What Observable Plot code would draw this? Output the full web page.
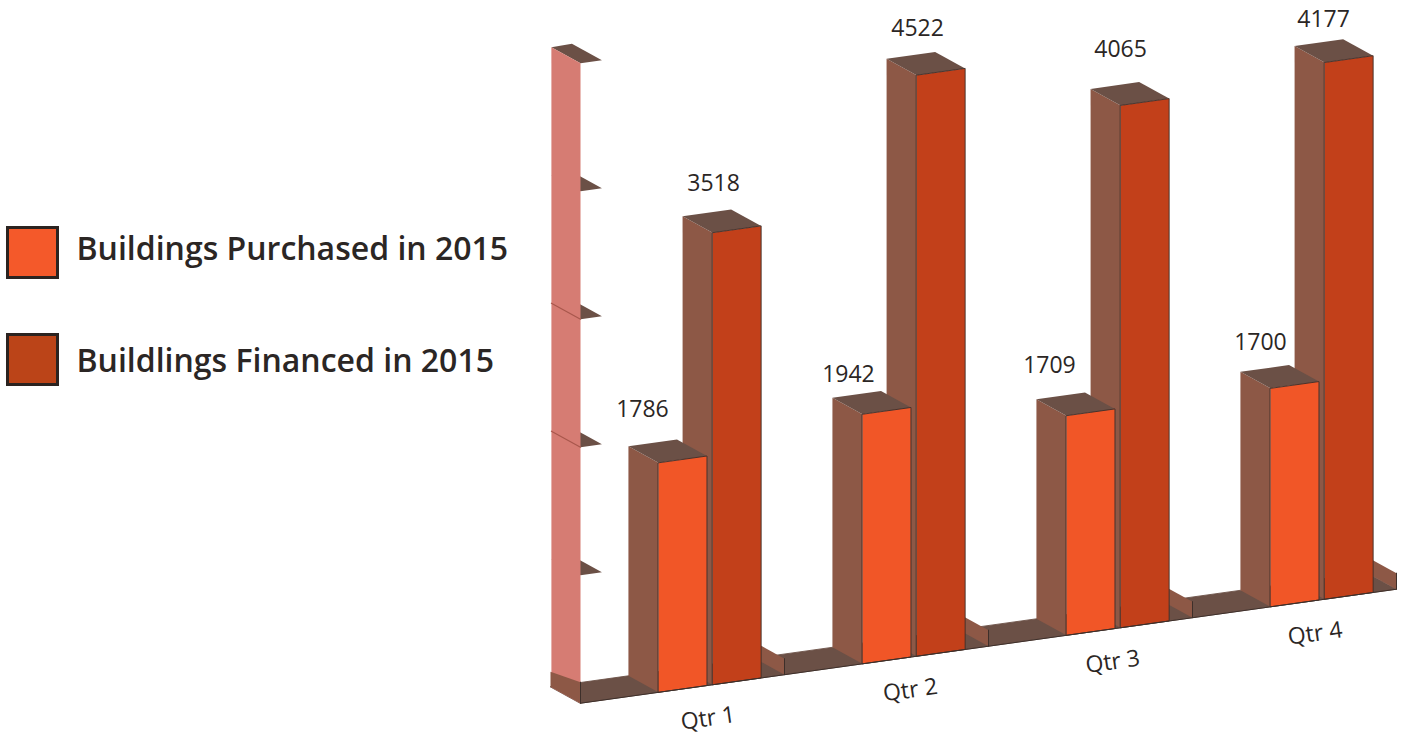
<!DOCTYPE html>
<html>
<head>
<meta charset="utf-8">
<script src="https://cdn.jsdelivr.net/npm/d3@7"></script>
<script src="https://cdn.jsdelivr.net/npm/@observablehq/plot@0.6"></script>
<style>
html,body{margin:0;padding:0;background:#fff}
#wrap{position:relative;width:1402px;height:735px;font-family:"Open Sans",sans-serif;overflow:hidden}
#wrap svg{display:block;position:absolute;left:0;top:0}
.sw{position:absolute;left:6px;width:53px;height:53px;box-sizing:border-box;border:3px solid #2b2320;outline:0}
.lg{position:absolute;left:76.5px;font-size:32px;font-weight:600;color:#2b2624;line-height:40px;white-space:nowrap}
</style>
</head>
<body>
<div id="wrap"></div>
<script>
// ---- data
const quarters = ["Qtr 1", "Qtr 2", "Qtr 3", "Qtr 4"];
const purchased = [1786, 1942, 1709, 1700];
const financed = [3518, 4522, 4065, 4177];
const axisTicks = [1000, 2000, 3000, 4000, 5000];
const seriesNames = ["Buildings Purchased in 2015", "Buildlings Financed in 2015"];

// ---- styling and oblique projection constants
const C = {purchased:"#f15627", financed:"#c2401a", side:"#8d5846", top:"#6b5046", wall:"#d67c73", edge:"#3d2f2a", tickLine:"#a8574c"};
const pxPerU = 204, slopePx = 28.5, depthPxX = 30, depthPxY = 16.5, pxPerV = 0.1285;
const barOffset = [0.382, 0.6475], barW = 0.238, wallH = 125, baseFront = 164, baseBack = 117, tickW = 0.105;
const axisK = 0.996, wallDepth = 0.97;
const X = (u, d) => u - d * depthPxX / pxPerU;
const Y = (u, d, v) => v + (slopePx * u + depthPxY * d) / pxPerV;

// ---- polygons, in painter's order
const polys = [];
let pid = 0;
function poly(fill, stroke, corners) {
  pid++;
  for (const [u, d, v] of corners) polys.push({id: pid, fill, stroke, x: X(u, d), y: Y(u, d, v)});
}
const n = quarters.length;
const axisMax = axisTicks[axisTicks.length - 1] * axisK;
// floor
poly(C.top, C.top, [[0,0,0],[n,0,0],[n,1,0],[0,1,0]]);
// axis tick shelves
for (const t of axisTicks) poly(C.top, "none", [[0,0,t*axisK],[tickW,0,t*axisK],[tickW,1,t*axisK],[0,wallDepth,t*axisK]]);
// left wall
poly(C.wall, "none", [[0,0,0],[0,0,axisMax],[0,wallDepth,axisMax],[0,wallDepth,0]]);
// base of the left wall
poly(C.side, "none", [[0,0,0],[0,0,baseFront],[0,1,baseBack],[0,1,0]]);
// category divider walls
for (let i = 1; i <= n; i++) poly(C.side, "none", [[i,0,0],[i,0,wallH],[i,1,wallH],[i,1,0]]);
// bars
function bar(u0, v, front) {
  const u1 = u0 + barW;
  poly(C.side, "none", [[u0,0,0],[u0,0,v],[u0,1,v],[u0,1,0]]);
  poly(C.top, "none", [[u0,0,v],[u1,0,v],[u1,1,v],[u0,1,v]]);
  poly(front, C.edge, [[u0,0,0],[u1,0,0],[u1,0,v],[u0,0,v]]);
}
quarters.forEach((q, i) => {
  bar(i + barOffset[1], financed[i], C.financed);
  bar(i + barOffset[0], purchased[i], C.purchased);
});

// dark edges
const edges = [];
[0,1,2,3,4].forEach(i => {
  const h = i === 0 ? baseFront : wallH;
  edges.push({id:"e"+i, x:X(i,0), y:Y(i,0,0)}, {id:"e"+i, x:X(i,0), y:Y(i,0,h)});
});
edges.push({id:"front", x:X(0,0), y:Y(0,0,0)}, {id:"front", x:X(n,0), y:Y(n,0,0)});
const wallLines = [];
axisTicks.slice(1,3).forEach(t => wallLines.push({id:t, x:X(0,0), y:Y(0,0,t*axisK)}, {id:t, x:X(0,wallDepth), y:Y(0,wallDepth,t*axisK)}));

// value labels: nudges from each bar's front top-left corner, in pixels
const nudgeP = [[-16,-53],[-14,-40],[-17,-50],[-10,-46]];
const nudgeF = [[1,-49],[1,-47],[0,-56],[-1,-43]];
const labels = [];
quarters.forEach((q, i) => {
  for (const [u, v, nd] of [[i+barOffset[0], purchased[i], nudgeP[i]], [i+barOffset[1], financed[i], nudgeF[i]]]) {
    labels.push({t: String(v), x: X(u,0) + nd[0]/pxPerU, y: Y(u,0,v) - nd[1]/pxPerV});
  }
});
const catLabels = quarters.map((q, i) => {
  const u = i * 0.992 + 0.625;
  return {t: q, x: X(u, 0), y: Y(u, 0, -258)};
});

const chart = Plot.plot({
  width: 1402, height: 735, margin: 0,
  style: {background: "#fff", fontFamily: '"Open Sans",sans-serif'},
  x: {domain: [0, 4], range: [580, 1396], axis: null},
  y: {domain: [0, 5000], range: [702.7, 702.7 - 5000 * pxPerV], axis: null},
  color: {type: "identity"},
  marks: [
    Plot.line(polys, {x:"x", y:"y", z:"id", fill:"fill", stroke:"stroke", strokeWidth:0.9, curve:"linear-closed"}),
    Plot.line(edges, {x:"x", y:"y", z:"id", stroke:C.edge, strokeWidth:1}),
    Plot.line(wallLines, {x:"x", y:"y", z:"id", stroke:C.tickLine, strokeWidth:1.2}),
    Plot.text(labels, {x:"x", y:"y", text:"t", fontSize:23, fill:"#2b2624"}),
    Plot.text(catLabels, {x:"x", y:"y", text:"t", fontSize:23, fill:"#2b2624", rotate:-8})
  ]
});
const wrap = document.getElementById("wrap");
wrap.appendChild(chart);
[[seriesNames[0], "#f4592a", 225.5, 228], [seriesNames[1], "#bb4418", 332.5, 340]].forEach(([name, col, top, ty]) => {
  const s = document.createElement("div"); s.className = "sw"; s.style.top = top + "px"; s.style.background = col; wrap.appendChild(s);
  const t = document.createElement("div"); t.className = "lg"; t.style.top = ty + "px"; t.textContent = name; wrap.appendChild(t);
});
</script>
</body>
</html>
